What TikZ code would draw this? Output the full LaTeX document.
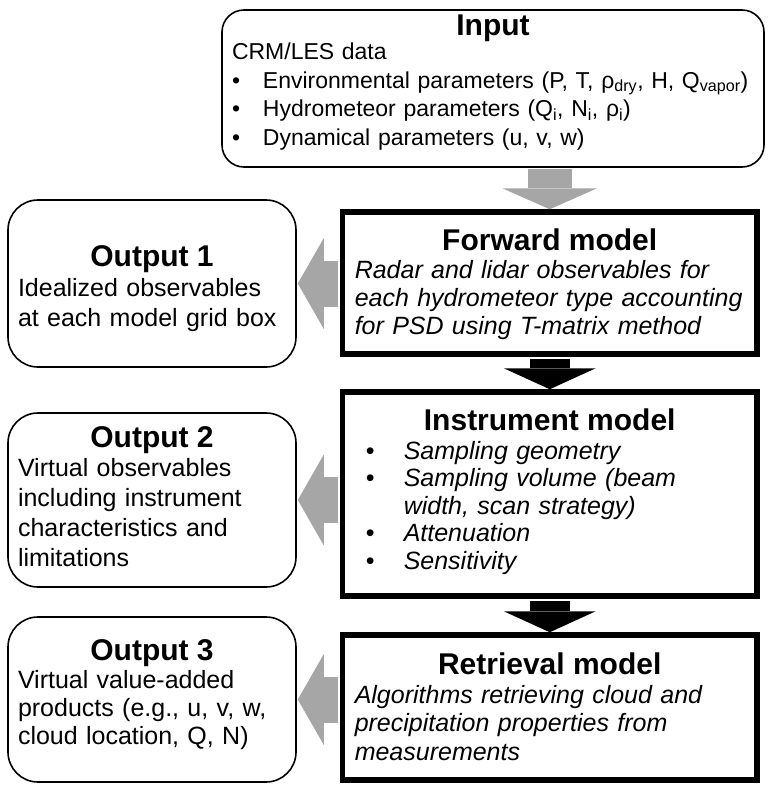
\documentclass[tikz,border=0pt]{standalone}
\usepackage{fontspec}
\setmainfont{Liberation Sans}
\usetikzlibrary{arrows.meta}

\definecolor{arrowgray}{RGB}{166,166,166}

% title line of a box: #1 = height of its strut
\newcommand{\boxtitle}[2][22pt]{\makebox[\hsize]{\rule{0pt}{#1}\fontsize{30pt}{34pt}\selectfont\bfseries #2}}
% depth below the last line
\newcommand{\lastline}[1][9pt]{\rule[-#1]{0pt}{#1}}
\newcommand{\bitem}[1][31pt]{\makebox[#1][l]{\textbullet}}

\tikzset{
  inbox/.style={draw, line width=1.6pt, rounded corners=22pt, inner sep=0pt,
    minimum width=542pt, text width=522pt, align=left},
  outbox/.style={draw, line width=1.6pt, rounded corners=30pt, inner sep=0pt,
    minimum width=288pt, text width=268pt, align=left},
  modelbox/.style={draw, line width=5.5pt, inner sep=0pt,
    minimum width=414.5pt, text width=390pt, align=left},
  pitch/.style={font=\fontsize{25pt}{#1}\selectfont},
  downgray/.style={arrowgray, line width=44pt, shorten <=1pt,
    -{Triangle[length=21pt, width=95pt, line width'=0pt]}},
  downblack/.style={black, line width=40pt, shorten <=2pt,
    -{Triangle[length=21pt, width=92pt, line width'=0pt]}},
  leftgray/.style={arrowgray, line width=46pt, shorten <=2pt, shorten >=1pt,
    -{Triangle[length=26pt, width=91pt, line width'=0pt]}},
}

\begin{document}
\begin{tikzpicture}[x=1pt, y=-1pt]

    \useasboundingbox (0,0) rectangle (769,793);

    % Model chain

    \node[inbox, minimum height=157pt, font=\fontsize{23pt}{28.5pt}\selectfont] (input) at (493,88.5) {%
      \boxtitle[23pt]{Input}\\[-4.7pt]
      CRM/LES data\\
      \bitem Environmental parameters (P, T, ρ\textsubscript{dry}, H, Q\textsubscript{vapor})\\
      \bitem Hydrometeor parameters (Q\textsubscript{i}, N\textsubscript{i}, ρ\textsubscript{i})\\
      \bitem Dynamical parameters (u, v, w)\lastline[19pt]};

    \node[modelbox, minimum height=142pt, pitch=28pt] (forward) at (549.75,283) {%
      \boxtitle[28pt]{Forward model}\\
      \itshape Radar and lidar observables for\\
      each hydrometeor type accounting\\
      for PSD using T-matrix method\lastline[8.8pt]};

    \node[modelbox, minimum height=204pt, pitch=27.5pt] (instrument) at (549.75,494) {%
      \boxtitle[22.2pt]{Instrument model}\\[1pt]
      \hspace*{11pt}\bitem[38pt]\textit{Sampling geometry}\\
      \hspace*{11pt}\bitem[38pt]\textit{Sampling volume (beam}\\
      \hspace*{49pt}\textit{width, scan strategy)}\\
      \hspace*{11pt}\bitem[38pt]\textit{Attenuation}\\
      \hspace*{11pt}\bitem[38pt]\textit{Sensitivity}\lastline[10pt]};

    \node[modelbox, minimum height=145pt, pitch=28.5pt] (retrieval) at (549.75,707.5) {%
      \boxtitle[30pt]{Retrieval model}\\
      \itshape Algorithms retrieving cloud and\\
      precipitation properties from\\
      measurements\lastline[9.8pt]};

    % Outputs

    \node[outbox, minimum height=167pt, pitch=30pt] (out1) at (152,283.5) {%
      \boxtitle[35pt]{Output 1}\\
      Idealized observables\\
      at each model grid box\lastline[8.8pt]};

    \node[outbox, minimum height=174pt, pitch=30pt] (out2) at (152,500) {%
      \boxtitle[23pt]{Output 2}\\[-1pt]
      Virtual observables\\
      including instrument\\
      characteristics and\\
      limitations\lastline[8.8pt]};

    \node[outbox, minimum height=165pt, pitch=28pt] (out3) at (152,699.5) {%
      \boxtitle[25pt]{Output 3}\\
      Virtual value-added\\
      products (e.g., u, v, w,\\
      cloud location, Q, N)\lastline[19.8pt]};

    % Arrows

    \draw[downgray] (input.south -| forward.north) -- (forward.north);
    \draw[downblack] (forward.south) -- (instrument.north);
    \draw[downblack] (instrument.south) -- (retrieval.north);

    \draw[leftgray] (out1.east -| forward.west) -- (out1.east);
    \draw[leftgray] (out2.east -| instrument.west) -- (out2.east);
    \draw[leftgray] (out3.east -| retrieval.west) -- (out3.east);

\end{tikzpicture}
\end{document}
